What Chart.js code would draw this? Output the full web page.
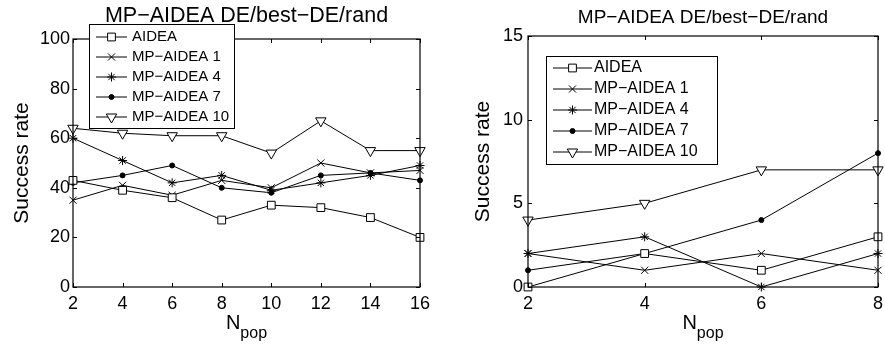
<!DOCTYPE html>
<html>
<head>
<meta charset="utf-8">
<script src="https://cdn.jsdelivr.net/npm/chart.js@4/dist/chart.umd.min.js"></script>
<style>
  html, body { margin: 0; padding: 0; background: #fff; }
  #wrap { position: relative; width: 885px; height: 346px; }
  canvas { position: absolute; top: 0; }
</style>
</head>
<body>
<div id="wrap">
  <canvas id="leftChart" width="440" height="346" style="left:0"></canvas>
  <canvas id="rightChart" width="445" height="346" style="left:440px"></canvas>
</div>
<script>
// data
const popLeft = [2, 4, 6, 8, 10, 12, 14, 16];
const popRight = [2, 4, 6, 8];
const seriesNames = ['AIDEA', 'MP\u2212AIDEA 1', 'MP\u2212AIDEA 4', 'MP\u2212AIDEA 7', 'MP\u2212AIDEA 10'];

const leftAidea = [43, 39, 36, 27, 33, 32, 28, 20];
const leftMp1 = [35, 41, 37, 43, 40, 50, 46, 47];
const leftMp4 = [60, 51, 42, 45, 39, 42, 45, 49];
const leftMp7 = [42, 45, 49, 40, 38, 45, 46, 43];
const leftMp10 = [64, 62, 61, 61, 54, 67, 55, 55];

const rightAidea = [0, 2, 1, 3];
const rightMp1 = [2, 1, 2, 1];
const rightMp4 = [2, 3, 0, 2];
const rightMp7 = [1, 2, 4, 8];
const rightMp10 = [4, 5, 7, 7];

const leftYTicks = [0, 20, 40, 60, 80, 100];
const rightYTicks = [0, 5, 10, 15];
const titleText = 'MP\u2212AIDEA DE/best\u2212DE/rand';

const FONT = "'Liberation Sans', Arial, Helvetica, sans-serif";

// matlab-ish markers: square, x, asterisk, dot, down triangle
const markers = [
    { style: 'rect', radius: 5.5, fill: '#fff', rotation: 0 },
    { style: 'crossRot', radius: 5, fill: '#000', rotation: 0 },
    { style: 'star', radius: 4.5, fill: '#000', rotation: 0 },
    { style: 'circle', radius: 2.5, fill: '#000', rotation: 0 },
    { style: 'triangle', radius: 6, fill: '#fff', rotation: 180 }
];

// box, inward ticks, title, N_pop label and legend
const matlabLook = {
    id: 'matlabLook',
    afterDatasetsDraw(chart, args, opts) {
        const ctx = chart.ctx;
        const area = chart.chartArea;
        const xs = chart.scales.x, ys = chart.scales.y;
        ctx.save();
        ctx.strokeStyle = '#000';
        ctx.lineWidth = 1.2;
        ctx.strokeRect(area.left, area.top, area.right - area.left, area.bottom - area.top);

        ctx.lineWidth = 1;
        ctx.beginPath();
        xs.ticks.forEach(t => {
            const px = Math.round(xs.getPixelForValue(t.value)) + 0.5;
            ctx.moveTo(px, area.bottom); ctx.lineTo(px, area.bottom - 4);
            ctx.moveTo(px, area.top); ctx.lineTo(px, area.top + 4);
        });
        ys.ticks.forEach(t => {
            const py = Math.round(ys.getPixelForValue(t.value)) + 0.5;
            ctx.moveTo(area.left, py); ctx.lineTo(area.left + 4, py);
            ctx.moveTo(area.right, py); ctx.lineTo(area.right - 4, py);
        });
        ctx.stroke();

        // title
        const cx = (area.left + area.right) / 2;
        ctx.fillStyle = '#000';
        ctx.textAlign = 'center';
        ctx.textBaseline = 'alphabetic';
        ctx.font = opts.titleSize + 'px ' + FONT;
        ctx.fillText(titleText, cx, opts.titleBase);

        // x label with subscript
        ctx.font = '20px ' + FONT;
        const wN = ctx.measureText('N').width;
        ctx.font = '16px ' + FONT;
        const wSub = ctx.measureText('pop').width;
        const x0 = cx - (wN + wSub) / 2;
        ctx.textAlign = 'left';
        ctx.font = '20px ' + FONT;
        ctx.fillText('N', x0, 329);
        ctx.font = '16px ' + FONT;
        ctx.fillText('pop', x0 + wN, 338);

        // legend
        const lg = opts.legend;
        ctx.fillStyle = '#fff';
        ctx.fillRect(lg.x, lg.y, lg.w, lg.h);
        ctx.lineWidth = 1;
        ctx.strokeRect(lg.x + 0.5, lg.y + 0.5, lg.w, lg.h);
        ctx.font = lg.font + 'px ' + FONT;
        ctx.textBaseline = 'middle';
        chart.data.datasets.forEach((ds, i) => {
            const ry = lg.y + lg.first + i * lg.step;
            ctx.strokeStyle = '#000';
            ctx.lineWidth = 1;
            ctx.beginPath();
            ctx.moveTo(lg.x + lg.lineL, ry);
            ctx.lineTo(lg.x + lg.lineR, ry);
            ctx.stroke();
            const m = markers[i];
            ctx.fillStyle = m.fill;
            Chart.helpers.drawPoint(ctx, {
                pointStyle: m.style, radius: m.radius, rotation: m.rotation, borderWidth: 1
            }, lg.x + (lg.lineL + lg.lineR) / 2, ry);
            ctx.fillStyle = '#000';
            ctx.fillText(ds.label, lg.x + lg.textX, ry);
        });
        ctx.restore();
    }
};

function makeChart(id, pop, series, yTicks, cfg) {
    const tickFont = { family: FONT, size: 18 };
    return new Chart(document.getElementById(id), {
        type: 'line',
        data: {
            datasets: series.map((vals, i) => ({
                label: seriesNames[i],
                data: vals.map((v, j) => ({ x: pop[j], y: v })),
                borderColor: '#000',
                borderWidth: 1,
                pointStyle: markers[i].style,
                pointRadius: markers[i].radius,
                pointRotation: markers[i].rotation,
                pointBackgroundColor: markers[i].fill,
                pointBorderColor: '#000',
                pointBorderWidth: 1,
                tension: 0,
                fill: false,
                clip: false
            }))
        },
        options: {
            responsive: false,
            animation: false,
            events: [],
            layout: { padding: cfg.padding },
            plugins: {
                legend: { display: false },
                tooltip: { enabled: false },
                matlabLook: cfg.look
            },
            scales: {
                x: {
                    type: 'linear',
                    min: pop[0],
                    max: pop[pop.length - 1],
                    afterBuildTicks: s => { s.ticks = pop.map(v => ({ value: v })); },
                    afterFit: s => { s.height = 59; s.paddingLeft = 0; s.paddingRight = 0; },
                    grid: { display: false, drawTicks: false },
                    border: { display: false },
                    ticks: { color: '#000', font: tickFont, padding: 6, maxRotation: 0 }
                },
                y: {
                    type: 'linear',
                    min: yTicks[0],
                    max: yTicks[yTicks.length - 1],
                    afterBuildTicks: s => { s.ticks = yTicks.map(v => ({ value: v })); },
                    afterFit: s => { s.width = cfg.yWidth; s.paddingTop = 0; s.paddingBottom = 0; },
                    grid: { display: false, drawTicks: false },
                    border: { display: false },
                    ticks: { color: '#000', font: tickFont, padding: cfg.yPad },
                    title: {
                        display: true,
                        text: 'Success rate',
                        color: '#000',
                        font: { family: FONT, size: 21 },
                        padding: { top: cfg.titlePad, bottom: 0 }
                    }
                }
            }
        },
        plugins: [matlabLook]
    });
}

makeChart('leftChart', popLeft, [leftAidea, leftMp1, leftMp4, leftMp7, leftMp10], leftYTicks, {
    padding: { top: 39, right: 20, left: 0, bottom: 0 },
    yWidth: 73,
    yPad: 3,
    titlePad: 10,
    look: {
        titleSize: 21.5, titleBase: 22,
        legend: { x: 89, y: 24, w: 145, h: 104, first: 13, step: 20, lineL: 7, lineR: 38, textX: 43, font: 15 }
    }
});

makeChart('rightChart', popRight, [rightAidea, rightMp1, rightMp4, rightMp7, rightMp10], rightYTicks, {
    padding: { top: 36, right: 4, left: 0, bottom: 0 },
    yWidth: 88,
    yPad: 5,
    titlePad: 31,
    look: {
        titleSize: 19, titleBase: 23,
        legend: { x: 106, y: 56, w: 171, h: 108, first: 12, step: 21, lineL: 7, lineR: 46, textX: 48, font: 16 }
    }
});
</script>
</body>
</html>
